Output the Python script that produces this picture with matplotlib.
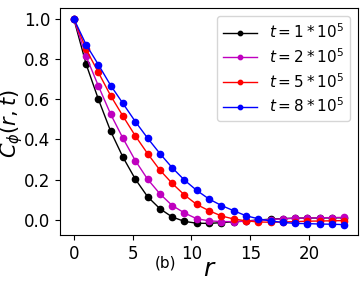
import matplotlib
matplotlib.use("Agg")
import matplotlib.pyplot as plt

r = [0.0, 1.05, 2.09, 3.14, 4.18, 5.23, 6.27, 7.32, 8.36, 9.41, 10.45, 11.5,
     12.55, 13.59, 14.64, 15.68, 16.73, 17.77, 18.82, 19.86, 20.91, 21.95, 23.0]

c_t1 = [1.0, 0.774, 0.600, 0.440, 0.312, 0.203, 0.116, 0.056, 0.015, -0.007, -0.016, -0.017,
        -0.013, -0.009, -0.005, 0.000, 0.004, 0.007, 0.009, 0.010, 0.010, 0.011, 0.011]
c_t2 = [1.0, 0.813, 0.666, 0.525, 0.406, 0.295, 0.203, 0.130, 0.072, 0.035, 0.006, -0.004,
        -0.008, -0.008, -0.006, -0.002, 0.002, 0.006, 0.009, 0.010, 0.011, 0.012, 0.013]
c_t5 = [1.0, 0.848, 0.733, 0.617, 0.516, 0.418, 0.330, 0.248, 0.182, 0.124, 0.077, 0.046,
        0.020, 0.005, -0.004, -0.010, -0.011, -0.010, -0.008, -0.006, -0.005, -0.004, -0.003]
c_t8 = [1.0, 0.871, 0.772, 0.668, 0.579, 0.489, 0.407, 0.330, 0.260, 0.198, 0.147, 0.104,
        0.072, 0.046, 0.021, 0.006, -0.005, -0.012, -0.017, -0.018, -0.020, -0.021, -0.023]

series = [
    (c_t1, "k", r"$t=1*10^5$"),
    (c_t2, "m", r"$t=2*10^5$"),
    (c_t5, "r", r"$t=5*10^5$"),
    (c_t8, "b", r"$t=8*10^5$"),
]

fig = plt.figure(figsize=(3.63, 2.81), dpi=100)
ax = fig.add_axes([0.166, 0.164, 0.820, 0.806])

for values, color, label in series:
    ax.plot(r, values, color=color, marker="o", markersize=4.5, linewidth=1.0, label=label)

ax.set_xticks([0, 5, 10, 15, 20])
ax.set_yticks([0.0, 0.2, 0.4, 0.6, 0.8, 1.0])
ax.tick_params(labelsize=12)
ax.set_xlabel(r"$r$", fontsize=18)
ax.set_ylabel(r"$C_\phi(r,t)$", fontsize=15)
ax.xaxis.set_label_coords(0.503, -0.098)
ax.yaxis.set_label_coords(-0.117, 0.49)
ax.legend(loc="upper right", fontsize=11, handlelength=2.2, labelspacing=0.4,
          handletextpad=0.8, markerscale=0.7)
fig.text(0.457, 0.064, "(b)", fontsize=11, ha="center", va="center")

fig.savefig("out.png", dpi=100)
